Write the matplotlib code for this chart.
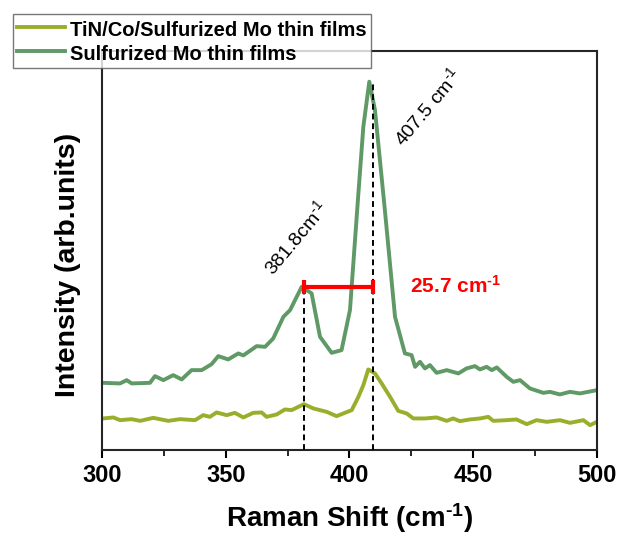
import matplotlib
matplotlib.use("Agg")
import matplotlib.pyplot as plt
import numpy as np

plt.rcParams['font.family'] = ['Liberation Sans', 'DejaVu Sans']
plt.rcParams['mathtext.fontset'] = 'custom'
plt.rcParams['mathtext.rm'] = 'Liberation Sans'
plt.rcParams['mathtext.it'] = 'Liberation Sans:italic'
plt.rcParams['mathtext.bf'] = 'Liberation Sans:bold'

# Raman spectra (arb. units)
shift_mo = [300.5, 307.3, 310, 312, 319.4, 321.4, 324.8, 328.8, 332.2, 336.2, 340.3, 344.3,
            347, 351, 355.1, 357.1, 362.5, 365.9, 369.2, 373.3, 376, 380.7, 384.7, 388.1,
            392.8, 396.8, 400.2, 403.6, 405.6, 408, 410.3, 414.3, 418.4, 422.4, 425.1, 426.5,
            428.5, 430.5, 432.5, 435.2, 439.3, 444, 447.3, 450.7, 452.7, 455.4, 457.5, 459.5,
            463.5, 466.2, 468.9, 472.9, 478.3, 481, 485, 489.1, 493.1, 500]
int_mo = [67.3, 66.7, 70, 66.7, 67.3, 74, 70, 75, 70.7, 80, 80, 86,
          94, 90.7, 96.7, 94.7, 104, 103.3, 111.7, 133.3, 140, 163.3, 156.7, 113.3,
          97.3, 100, 140, 256.7, 323.3, 368.3, 340, 240, 133.3, 96.7, 95, 83.3,
          88.3, 81.7, 85, 77.3, 80, 76.7, 81.7, 84, 80.7, 83.3, 80, 82.7,
          73.3, 68.3, 70, 61.7, 57.3, 58.3, 55.7, 58.3, 56.7, 60]

shift_tin = [300.5, 304.6, 307.3, 312, 315.4, 320.7, 326.8, 331.5, 337.6, 340.9, 343.6, 346.3,
             350.4, 353.7, 357.1, 361.1, 364.5, 366.5, 370.6, 373.9, 376.6, 381.6, 385.4, 390.8,
             394.8, 397.5, 400.9, 403.6, 405.6, 407.6, 410.3, 413, 416.4, 419.7, 423.1, 425.8,
             430.5, 435.2, 439.3, 441.9, 444.6, 448.7, 452.7, 456.1, 458.1, 463.5, 467.5, 471.6,
             475.6, 479.7, 485, 489.1, 494.5, 497.2, 500]
int_tin = [31.7, 32.7, 30, 31, 29.3, 32.3, 29.3, 31, 30, 35, 33.3, 37.7,
           35, 37.3, 32.7, 37.3, 37.7, 33.3, 35.7, 40.7, 40, 46, 41.7, 38.3,
           34, 36.7, 40, 53.3, 65, 80.7, 76.7, 66.7, 53.3, 39.3, 36.7, 31.7,
           31.7, 32.7, 29.3, 31.7, 29, 30.7, 31.7, 33.3, 29.3, 30, 30.7, 26,
           30, 28.3, 30, 27.3, 30, 25, 28.3]

peaks = [381.8, 409.5]
peak_heights = [163.3, 368.3]
peak_labels = ['381.8cm$^{\u20101}$', '407.5 cm$^{\u20101}$']
split_label = '25.7 cm$^{\\mathbf{\u20101}}$'

c_tin = '#9bae2c'
c_mo = '#5f9966'

fig = plt.figure(figsize=(6.18, 5.34), dpi=100)
ax = fig.add_axes([0.165, 0.157, 0.801, 0.7475])

l1, = ax.plot(shift_tin, int_tin, color=c_tin, lw=2.8, solid_joinstyle='round')
l2, = ax.plot(shift_mo, int_mo, color=c_mo, lw=2.8, solid_joinstyle='round')

for p, h in zip(peaks, peak_heights):
    ax.plot([p, p], [0, h], color='black', ls=(0, (3, 2)), lw=1.4, zorder=3)

# peak separation bar
mid = (peaks[0] + peaks[1]) / 2
half = (peaks[1] - peaks[0]) / 2
ax.errorbar(mid, peak_heights[0], xerr=half, fmt='none', ecolor='red',
            elinewidth=3, capsize=5, capthick=3, zorder=4)
ax.text(424.5, 164, split_label, color='red', fontsize=15, fontweight='bold',
        ha='left', va='center')

ax.text(378.5, 212, peak_labels[0], fontsize=14, rotation=50, ha='center', va='center')
ax.text(431.5, 343, peak_labels[1], fontsize=14, rotation=50, ha='center', va='center')

ax.set_xlim(300, 500)
ax.set_ylim(0, 399)
ax.set_yticks([])
ax.set_xticks([300, 350, 400, 450, 500])
ax.set_xticks(np.arange(325, 500, 50), minor=True)
ax.tick_params(axis='x', which='major', direction='out', length=6, width=1.5,
               labelsize=17, pad=4)
ax.tick_params(axis='x', which='minor', direction='out', length=4, width=1.2)
for lab in ax.get_xticklabels():
    lab.set_fontweight('bold')
for s in ax.spines.values():
    s.set_linewidth(1.5)
    s.set_color('#262626')

ax.set_xlabel('Raman Shift (cm$^{\\mathbf{\u20101}}$)', fontsize=20, fontweight='bold', labelpad=10)
ax.set_ylabel('Intensity (arb.units)', fontsize=20.5, fontweight='bold')
ax.yaxis.set_label_coords(-0.042, 0.465)

leg = fig.legend([l1, l2], ['TiN/Co/Sulfurized Mo thin films', 'Sulfurized Mo thin films'],
                 loc='upper left', bbox_to_anchor=(13 / 618, 1 - 14 / 534),
                 prop={'weight': 'bold', 'size': 14.5}, frameon=True, fancybox=False,
                 edgecolor='#555555', handlelength=2.4, handletextpad=0.25,
                 handleheight=1.3, borderpad=0.2, labelspacing=0.1, borderaxespad=0)
leg.get_frame().set_linewidth(1.0)

fig.savefig('out.png', dpi=100)
